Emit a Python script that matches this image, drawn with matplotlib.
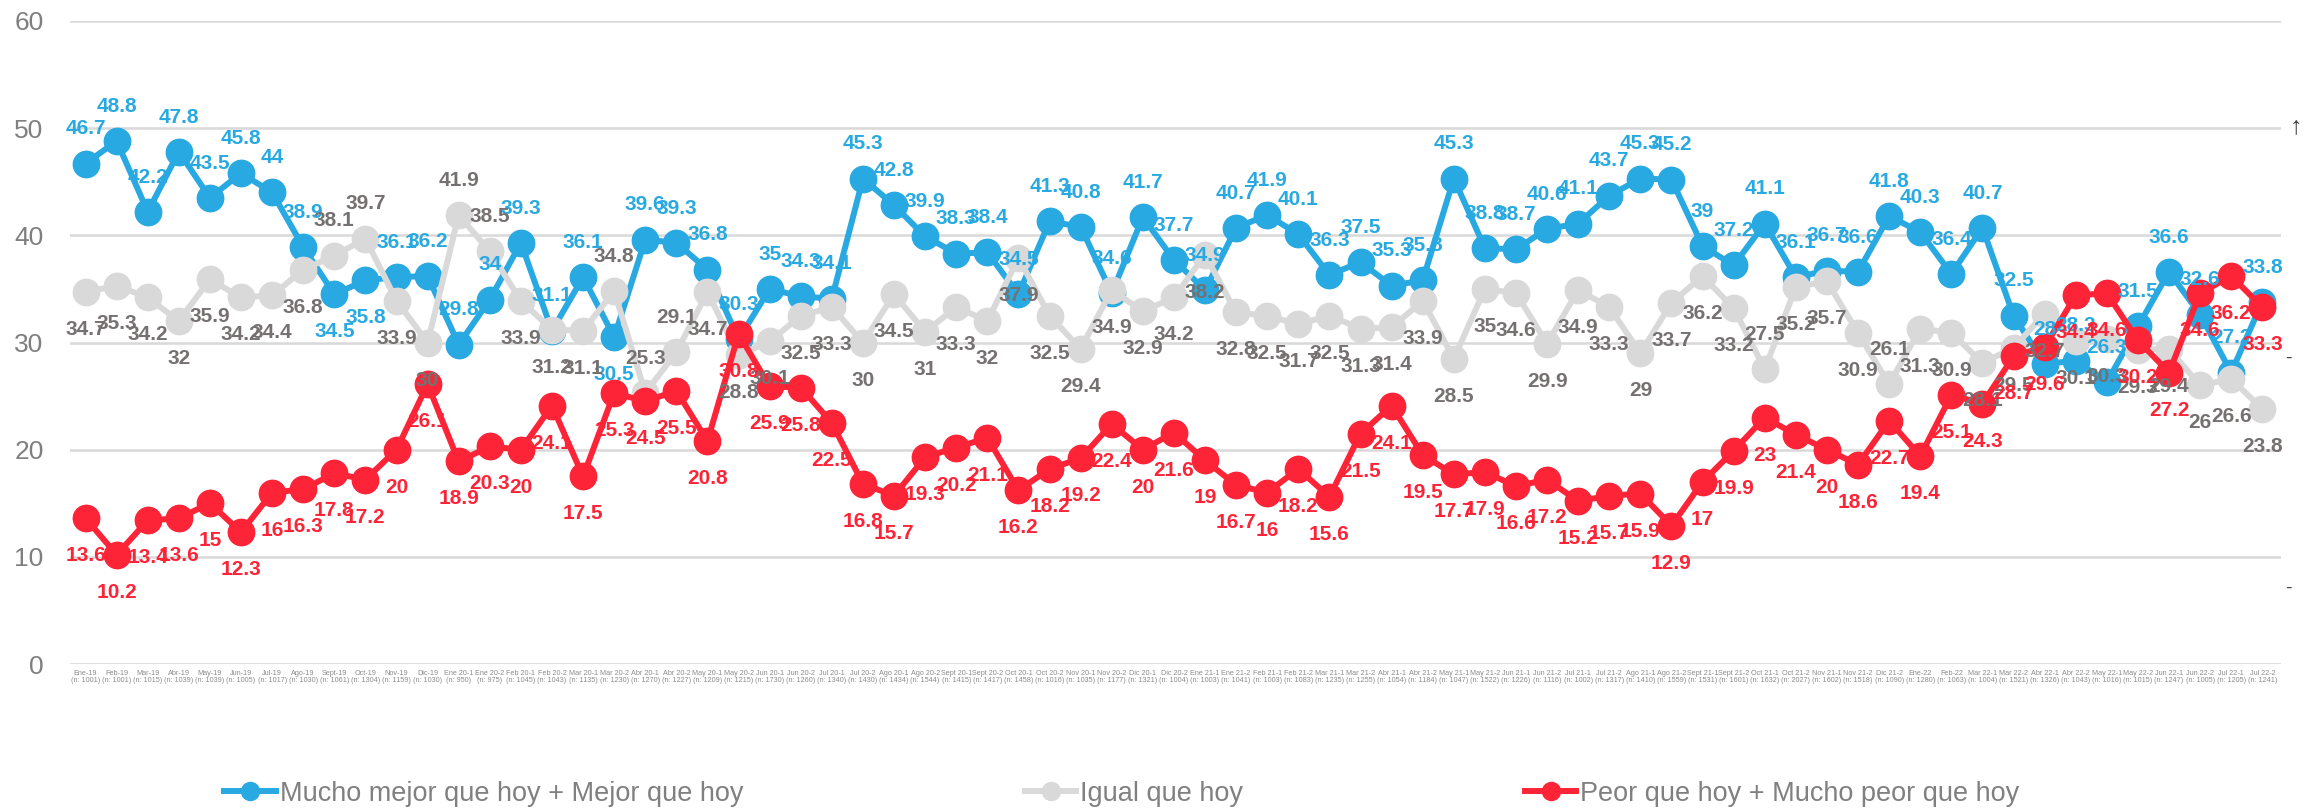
#!/usr/bin/env python
"""
Expectativas a futuro: serie de tres lineas con etiquetas de datos.
"""

import matplotlib

matplotlib.use("Agg")
import matplotlib.pyplot as plt
import numpy as np
from matplotlib.lines import Line2D

FONT = ["Liberation Sans", "DejaVu Sans"]
plt.rcParams["font.family"] = FONT

# Data
PERIODS = [
    "Ene-19", "Feb-19", "Mar-19", "Abr-19", "May-19", "Jun-19", "Jul-19",
    "Ago-19", "Sept-19", "Oct-19", "Nov-19", "Dic-19", "Ene 20-1", "Ene 20-2",
    "Feb 20-1", "Feb 20-2", "Mar 20-1", "Mar 20-2", "Abr 20-1", "Abr 20-2",
    "May 20-1", "May 20-2", "Jun 20-1", "Jun 20-2", "Jul 20-1", "Jul 20-2",
    "Ago 20-1", "Ago 20-2", "Sept 20-1", "Sept 20-2", "Oct 20-1", "Oct 20-2",
    "Nov 20-1", "Nov 20-2", "Dic 20-1", "Dic 20-2", "Ene 21-1", "Ene 21-2",
    "Feb 21-1", "Feb 21-2", "Mar 21-1", "Mar 21-2", "Abr 21-1", "Abr 21-2",
    "May 21-1", "May 21-2", "Jun 21-1", "Jun 21-2", "Jul 21-1", "Jul 21-2",
    "Ago 21-1", "Ago 21-2", "Sept 21-1", "Sept 21-2", "Oct 21-1", "Oct 21-2",
    "Nov 21-1", "Nov 21-2", "Dic 21-2", "Ene-22", "Feb-22", "Mar 22-1",
    "Mar 22-2", "Abr 22-1", "Abr 22-2", "May 22-1", "May 22-2", "Jun 22-1",
    "Jun 22-2", "Jul 22-1", "Jul 22-2",
]
SAMPLES = [
    1001, 1001, 1015, 1039, 1039, 1005, 1017, 1030, 1061, 1304, 1159, 1030,
    950, 975, 1045, 1043, 1135, 1230, 1270, 1227, 1209, 1215, 1730, 1260,
    1340, 1430, 1434, 1544, 1415, 1417, 1458, 1016, 1035, 1177, 1321, 1004,
    1003, 1041, 1003, 1083, 1235, 1255, 1054, 1184, 1047, 1522, 1226, 1116,
    1002, 1317, 1410, 1559, 1531, 1601, 1632, 2027, 1602, 1518, 1090, 1280,
    1063, 1004, 1521, 1326, 1043, 1016, 1015, 1247, 1005, 1205, 1241,
]
MEJOR = [
    46.7, 48.8, 42.2, 47.8, 43.5, 45.8, 44, 38.9, 34.5, 35.8, 36.1, 36.2,
    29.8, 34, 39.3, 31.1, 36.1, 30.5, 39.6, 39.3, 36.8, 30.3, 35, 34.3,
    34.1, 45.3, 42.8, 39.9, 38.3, 38.4, 34.5, 41.3, 40.8, 34.6, 41.7, 37.7,
    34.9, 40.7, 41.9, 40.1, 36.3, 37.5, 35.3, 35.8, 45.3, 38.8, 38.7, 40.6,
    41.1, 43.7, 45.3, 45.2, 39, 37.2, 41.1, 36.1, 36.7, 36.6, 41.8, 40.3,
    36.4, 40.7, 32.5, 28, 28.3, 26.3, 31.5, 36.6, 32.6, 27.2, 33.8,
]
IGUAL = [
    34.7, 35.3, 34.2, 32, 35.9, 34.2, 34.4, 36.8, 38.1, 39.7, 33.9, 30,
    41.9, 38.5, 33.9, 31.2, 31.1, 34.8, 25.3, 29.1, 34.7, 28.8, 30.1, 32.5,
    33.3, 30, 34.5, 31, 33.3, 32, 37.9, 32.5, 29.4, 34.9, 32.9, 34.2,
    38.2, 32.8, 32.5, 31.7, 32.5, 31.3, 31.4, 33.9, 28.5, 35, 34.6, 29.9,
    34.9, 33.3, 29, 33.7, 36.2, 33.2, 27.5, 35.2, 35.7, 30.9, 26.1, 31.3,
    30.9, 28.1, 29.5, 32.7, 30.1, 30.3, 29.3, 29.4, 26, 26.6, 23.8,
]
PEOR = [
    13.6, 10.2, 13.4, 13.6, 15, 12.3, 16, 16.3, 17.8, 17.2, 20, 26.1,
    18.9, 20.3, 20, 24.1, 17.5, 25.3, 24.5, 25.5, 20.8, 30.8, 25.9, 25.8,
    22.5, 16.8, 15.7, 19.3, 20.2, 21.1, 16.2, 18.2, 19.2, 22.4, 20, 21.6,
    19, 16.7, 16, 18.2, 15.6, 21.5, 24.1, 19.5, 17.7, 17.9, 16.6, 17.2,
    15.2, 15.7, 15.9, 12.9, 17, 19.9, 23, 21.4, 20, 18.6, 22.7, 19.4,
    25.1, 24.3, 28.7, 29.6, 34.4, 34.6, 30.2, 27.2, 34.6, 36.2, 33.3,
]
SERIES_NAMES = [
    "Mucho mejor que hoy + Mejor que hoy",
    "Igual que hoy",
    "Peor que hoy + Mucho peor que hoy",
]

BLUE = "#29A9E1"
GREY = "#D9D9D9"
RED = "#FE2437"
LABEL_COLORS = [BLUE, "#767171", RED]

# points (1-based) whose label sits on the other side of the marker
BLUE_BELOW = {9, 10, 18}
GREY_ABOVE = {9, 10, 13, 14, 18, 19, 20, 55, 59}

W, H = 2318, 811
fig = plt.figure(figsize=(W / 100, H / 100), dpi=100)
ax = fig.add_axes([70 / W, (H - 664) / H, (2281 - 70) / W, (664 - 21) / H])

x = np.arange(1, len(PERIODS) + 1)
series = [MEJOR, IGUAL, PEOR]
colors = [BLUE, GREY, RED]

for i, (vals, col) in enumerate(zip(series, colors)):
    ax.plot(
        x, vals, color=col, lw=4.3, marker="o", ms=19,
        solid_joinstyle="round", zorder=3 + i,
    )

for i, vals in enumerate(series):
    for xi, v in zip(x, vals):
        if i == 0:
            up = xi not in BLUE_BELOW
        elif i == 1:
            up = xi in GREY_ABOVE
        else:
            up = False
        ax.annotate(
            f"{v:g}", xy=(xi, v), xytext=(0, 25 if up else -27),
            textcoords="offset points", ha="center", va="center",
            fontsize=15, fontweight="bold", color=LABEL_COLORS[i],
            zorder=10,
        )

ax.set_xlim(0.5, len(PERIODS) + 0.6)
ax.set_ylim(0, 60)
ax.set_yticks(range(0, 61, 10))
ax.set_xticks(x)
ax.set_xticklabels(
    [f"{p}\n(n: {n})" for p, n in zip(PERIODS, SAMPLES)],
    fontsize=5.2, color="#8C8C8C", linespacing=1.1,
)
ax.tick_params(axis="x", length=0, pad=4)
ax.tick_params(axis="y", length=0, pad=19, labelsize=19, labelcolor="#7F7F7F")
ax.grid(axis="y", color="#D9D9D9", lw=1.8, zorder=0)
ax.set_axisbelow(True)
for s in ax.spines.values():
    s.set_visible(False)

# stray marks on the right edge of the original
fig.text(2296 / W, 1 - 126 / H, "↑", ha="center", va="center",
         fontsize=18, color="#404040")
fig.text(2288 / W, 1 - 358 / H, "-", ha="center", va="center",
         fontsize=14, color="#404040")
fig.text(2288 / W, 1 - 588 / H, "-", ha="center", va="center",
         fontsize=14, color="#404040")

handles = [
    Line2D([], [], color=c, lw=4.3, marker="o", ms=13) for c in colors
]
fig.legend(
    handles, SERIES_NAMES, loc="center", bbox_to_anchor=(0.484, 0.021),
    ncol=3, frameon=False, prop={"family": FONT, "size": 19.5},
    labelcolor="#808080", columnspacing=10.4, handlelength=1.9,
    handletextpad=0.15,
)

fig.savefig("out.png", dpi=100)
